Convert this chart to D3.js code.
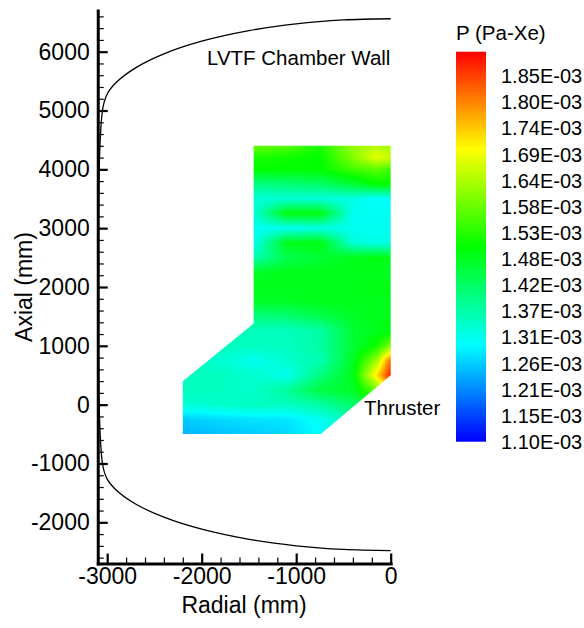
<!DOCTYPE html>
<html>
<head>
<meta charset="utf-8">
<script src="https://cdn.jsdelivr.net/npm/d3@7"></script>
<style>
  body { margin: 0; background: #fff; }
  text { font-family: "Liberation Sans", Arial, sans-serif; fill: #000; }
</style>
</head>
<body>
<div id="chart"></div>
<script>
var xTicks = [-3000, -2000, -1000, 0];
var xTickLabels = ["-3000", "-2000", "-1000", "0"];
var yTicks = [-2000, -1000, 0, 1000, 2000, 3000, 4000, 5000, 6000];
var yTickLabels = ["-2000", "-1000", "0", "1000", "2000", "3000", "4000", "5000", "6000"];

// colour bar (values in 1E-03 Pa)
var legendValues = [1.10, 1.1536, 1.2071, 1.2607, 1.3143, 1.3679, 1.4214, 1.475, 1.5286, 1.5821, 1.6357, 1.6893, 1.7429, 1.7964, 1.85];
var legendLabels = ["1.10E-03", "1.15E-03", "1.21E-03", "1.26E-03", "1.31E-03", "1.37E-03", "1.42E-03", "1.48E-03",
  "1.53E-03", "1.58E-03", "1.64E-03", "1.69E-03", "1.74E-03", "1.80E-03", "1.85E-03"];
var colorStops = [1.10, 1.30, 1.50, 1.70, 1.90];
var colorNames = ["#0000ff", "#00ffff", "#00ff00", "#ffff00", "#ff0000"];

// chamber wall outline (mm)
var wallRadial = [0, -500, -1000, -1500, -2000, -2400, -2700, -2900, -3000, -3050, -3050, -3000, -2900, -2700, -2400, -2000, -1500, -1000, -500, 0];
var wallAxial = [6560, 6539, 6474, 6358, 6178, 5963, 5725, 5484, 5281, 5000, -1000, -1266, -1459, -1688, -1913, -2117, -2289, -2399, -2460, -2480];

// measured region outline (mm)
var regionRadial = [-1450, 0, 0, -740, -2200, -2200, -1450];
var regionAxial = [4400, 4400, 500, -500, -500, 400, 1380];

// pressure grid (1E-03 Pa), rows follow gridAxial, columns follow gridRadial
var gridRadial = [-2200, -1850, -1450, -1100, -750, -400, -150, 0];
var gridAxial = [-500, -250, 0, 250, 500, 750, 1000, 1250, 1500, 1750, 2000, 2250, 2500, 2750, 3000, 3250, 3500, 3750, 4000, 4200, 4400];
var pressure = [
  [1.24, 1.25, 1.26, 1.27, 1.30, 1.34, 1.38, 1.42],
  [1.26, 1.27, 1.28, 1.28, 1.31, 1.36, 1.40, 1.45],
  [1.33, 1.34, 1.35, 1.35, 1.37, 1.42, 1.46, 1.52],
  [1.35, 1.35, 1.34, 1.38, 1.45, 1.47, 1.58, 1.75],
  [1.35, 1.35, 1.34, 1.31, 1.40, 1.48, 1.72, 1.88],
  [1.35, 1.34, 1.31, 1.34, 1.36, 1.47, 1.62, 1.82],
  [1.35, 1.35, 1.35, 1.35, 1.37, 1.46, 1.51, 1.60],
  [1.35, 1.35, 1.35, 1.35, 1.37, 1.46, 1.48, 1.49],
  [1.40, 1.40, 1.40, 1.41, 1.44, 1.47, 1.48, 1.48],
  [1.47, 1.47, 1.47, 1.47, 1.48, 1.48, 1.48, 1.48],
  [1.48, 1.48, 1.48, 1.48, 1.48, 1.48, 1.49, 1.48],
  [1.47, 1.47, 1.47, 1.48, 1.48, 1.48, 1.48, 1.47],
  [1.36, 1.36, 1.36, 1.44, 1.46, 1.48, 1.49, 1.48],
  [1.32, 1.32, 1.31, 1.48, 1.49, 1.33, 1.32, 1.32],
  [1.31, 1.31, 1.31, 1.31, 1.32, 1.31, 1.31, 1.31],
  [1.32, 1.32, 1.33, 1.49, 1.49, 1.31, 1.31, 1.31],
  [1.33, 1.33, 1.33, 1.33, 1.33, 1.32, 1.30, 1.30],
  [1.40, 1.40, 1.40, 1.41, 1.42, 1.46, 1.50, 1.50],
  [1.50, 1.50, 1.50, 1.50, 1.50, 1.55, 1.57, 1.55],
  [1.52, 1.52, 1.52, 1.51, 1.50, 1.60, 1.68, 1.66],
  [1.58, 1.58, 1.58, 1.57, 1.52, 1.62, 1.64, 1.62]
];

var width = 584, height = 628;

var x = d3.scaleLinear().domain([-3100, 0]).range([97.75, 390.7]);
var y = d3.scaleLinear().domain([-2700, 6700]).range([563.5, 10.5]);
var color = d3.scaleLinear().domain(colorStops).range(colorNames).clamp(true);
var legendY = d3.scaleLinear().domain([1.10, 1.90]).range([441.7, 51.7]);

var svg = d3.select("#chart").append("svg")
  .attr("width", width)
  .attr("height", height);

// contour flood: bilinear fill of the grid drawn into an image
function valueAt(r, a) {
  r = Math.max(gridRadial[0], Math.min(0, r));
  a = Math.max(gridAxial[0], Math.min(gridAxial[gridAxial.length - 1], a));
  var i = Math.min(d3.bisectRight(gridRadial, r) - 1, gridRadial.length - 2);
  var j = Math.min(d3.bisectRight(gridAxial, a) - 1, gridAxial.length - 2);
  var tx = (r - gridRadial[i]) / (gridRadial[i + 1] - gridRadial[i]);
  var ty = (a - gridAxial[j]) / (gridAxial[j + 1] - gridAxial[j]);
  var v0 = pressure[j][i] * (1 - tx) + pressure[j][i + 1] * tx;
  var v1 = pressure[j + 1][i] * (1 - tx) + pressure[j + 1][i + 1] * tx;
  return v0 * (1 - ty) + v1 * ty;
}

var px0 = Math.floor(x(gridRadial[0])), px1 = Math.ceil(x(0));
var py0 = Math.floor(y(gridAxial[gridAxial.length - 1])), py1 = Math.ceil(y(gridAxial[0]));
var cw = px1 - px0, ch = py1 - py0;
var canvas = document.createElement("canvas");
canvas.width = cw;
canvas.height = ch;
var ctx = canvas.getContext("2d");
var img = ctx.createImageData(cw, ch);
for (var py = 0; py < ch; py++) {
  for (var px = 0; px < cw; px++) {
    var v = valueAt(x.invert(px0 + px + 0.5), y.invert(py0 + py + 0.5));
    var c = d3.rgb(color(v));
    var k = (py * cw + px) * 4;
    img.data[k] = c.r;
    img.data[k + 1] = c.g;
    img.data[k + 2] = c.b;
    img.data[k + 3] = 255;
  }
}
ctx.putImageData(img, 0, 0);

var regionPoints = regionRadial.map(function (r, i) {
  return [x(r), y(regionAxial[i])];
});

svg.append("clipPath")
  .attr("id", "region")
  .append("polygon")
  .attr("points", regionPoints.map(function (p) { return p.join(","); }).join(" "));

svg.append("image")
  .attr("x", px0)
  .attr("y", py0)
  .attr("width", cw)
  .attr("height", ch)
  .attr("preserveAspectRatio", "none")
  .attr("href", canvas.toDataURL())
  .attr("clip-path", "url(#region)");

// chamber wall
var wallLine = d3.line()
  .x(function (d) { return x(d[0]); })
  .y(function (d) { return y(d[1]); })
  .curve(d3.curveCatmullRom.alpha(0.5));

svg.append("path")
  .datum(wallRadial.map(function (r, i) { return [r, wallAxial[i]]; }))
  .attr("d", wallLine)
  .attr("fill", "none")
  .attr("stroke", "#000")
  .attr("stroke-width", 1.3);

// axes
var xMinor = d3.range(-3000, 1, 200).filter(function (d) { return d % 1000 !== 0; });
var yMinor = d3.range(-2600, 6701, 200).filter(function (d) { return d % 1000 !== 0; });

svg.append("g")
  .attr("transform", "translate(0," + y(-2700) + ")")
  .call(d3.axisBottom(x).tickValues(xMinor).tickSizeInner(-6).tickSizeOuter(0).tickFormat(""))
  .call(function (g) { g.select(".domain").remove(); })
  .selectAll("line").attr("stroke-width", 1.2);

svg.append("g")
  .attr("transform", "translate(" + x(-3100) + ",0)")
  .call(d3.axisLeft(y).tickValues(yMinor).tickSizeInner(-6).tickSizeOuter(0).tickFormat(""))
  .call(function (g) { g.select(".domain").remove(); })
  .selectAll("line").attr("stroke-width", 1.2);

var xAxis = svg.append("g")
  .attr("transform", "translate(0," + y(-2700) + ")")
  .call(d3.axisBottom(x).tickValues(xTicks).tickSizeInner(-10).tickSizeOuter(0).tickPadding(4)
    .tickFormat(function (d, i) { return xTickLabels[i]; }));

var yAxis = svg.append("g")
  .attr("transform", "translate(" + x(-3100) + ",0)")
  .call(d3.axisLeft(y).tickValues(yTicks).tickSizeInner(-10).tickSizeOuter(0).tickPadding(8)
    .tickFormat(function (d, i) { return yTickLabels[i]; }));

[xAxis, yAxis].forEach(function (g) {
  g.select(".domain").attr("stroke-width", 3).attr("stroke-linecap", "square");
  g.selectAll(".tick line").attr("stroke-width", 2.2);
  g.selectAll(".tick text").style("font-size", "23px").attr("fill", "#000");
});

svg.append("text")
  .attr("x", 244)
  .attr("y", 613)
  .style("text-anchor", "middle")
  .style("font-size", "23px")
  .text("Radial (mm)");

svg.append("text")
  .attr("transform", "translate(32,287) rotate(-90)")
  .style("text-anchor", "middle")
  .style("font-size", "23px")
  .text("Axial (mm)");

svg.append("text")
  .attr("x", 207)
  .attr("y", 65)
  .style("font-size", "20.5px")
  .text("LVTF Chamber Wall");

svg.append("text")
  .attr("x", 364)
  .attr("y", 415)
  .style("font-size", "20.5px")
  .text("Thruster");

// colour bar
var grad = svg.append("defs").append("linearGradient")
  .attr("id", "bar")
  .attr("x1", 0).attr("y1", 1).attr("x2", 0).attr("y2", 0);
grad.selectAll("stop")
  .data(colorStops)
  .enter().append("stop")
  .attr("offset", function (d) { return (d - 1.10) / 0.80; })
  .attr("stop-color", function (d) { return color(d); });

svg.append("rect")
  .attr("x", 456)
  .attr("y", legendY(1.90))
  .attr("width", 30)
  .attr("height", legendY(1.10) - legendY(1.90))
  .attr("fill", "url(#bar)");

svg.selectAll(".legend-label")
  .data(legendValues)
  .enter().append("text")
  .attr("class", "legend-label")
  .attr("x", 501)
  .attr("y", function (d) { return legendY(d); })
  .attr("dy", "0.36em")
  .style("font-size", "20px")
  .text(function (d, i) { return legendLabels[i]; });

svg.append("text")
  .attr("x", 456)
  .attr("y", 40)
  .style("font-size", "20.5px")
  .text("P (Pa-Xe)");
</script>
</body>
</html>
